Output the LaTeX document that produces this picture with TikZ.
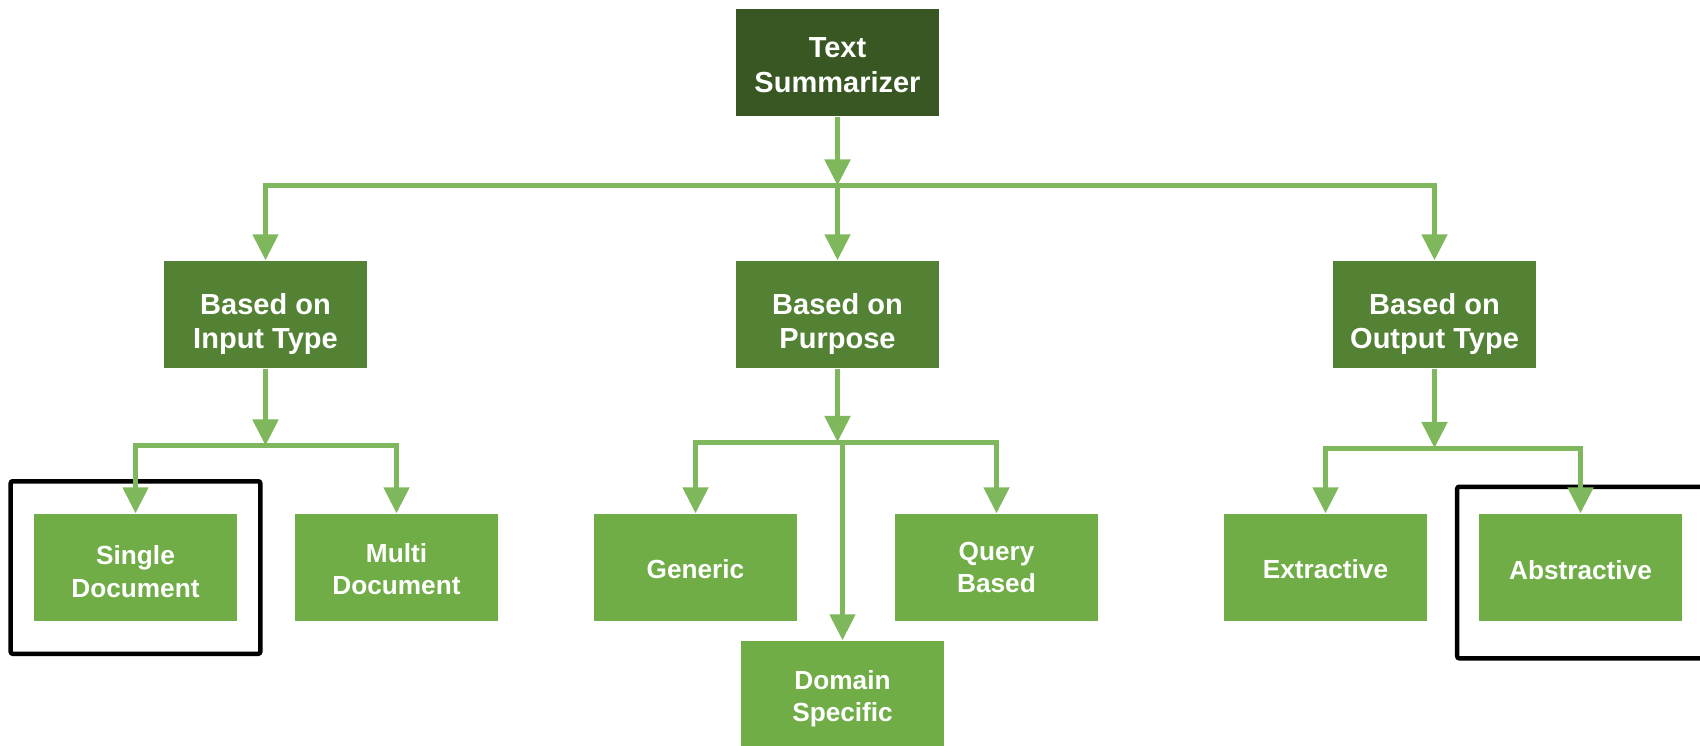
\documentclass[tikz,border=0pt]{standalone}
\usepackage{fontspec}
\setmainfont{Liberation Sans}
\usepackage{tikz}
\usetikzlibrary{arrows.meta}
\usetikzlibrary{fit}
\definecolor{topgreen}{HTML}{385723}
\definecolor{midgreen}{HTML}{548235}
\definecolor{leafgreen}{HTML}{70AD47}
\definecolor{linkgreen}{HTML}{7EB75C}
\begin{document}
\begin{tikzpicture}[x=0.01cm,y=-0.01cm]
\tikzset{box/.style={rectangle,inner sep=0pt,minimum width=2.03cm,minimum height=1.07cm}}
\tikzset{leaf/.style={box,fill=leafgreen}}
\tikzset{bigtext/.style={align=center,text=white,font=\fontsize{8.25}{9.8}\selectfont\bfseries}}
\tikzset{smalltext/.style={align=center,text=white,font=\fontsize{7.45}{9.2}\selectfont\bfseries}}
\tikzset{link/.style={draw=linkgreen,line width=0.05cm,-{Triangle[width=0.25cm,length=0.26cm]}}}
\tikzset{frame/.style={draw=black,line width=0.045cm,rounded corners=0.02cm,inner sep=0pt}}
\useasboundingbox (0,0) rectangle (1700,745);
\node (top) at (837.5,62.5) [box,fill=topgreen,label={[bigtext,yshift=-0.025cm]center:{Text\\Summarizer}}] {};
\node (input) at (265.5,314.5) [box,fill=midgreen,label={[bigtext,yshift=-0.095cm]center:{Based on\\Input Type}}] {};
\node (purpose) at (837.5,314.5) [box,fill=midgreen,label={[bigtext,yshift=-0.095cm]center:{Based on\\Purpose}}] {};
\node (output) at (1434.5,314.5) [box,fill=midgreen,label={[bigtext,yshift=-0.095cm]center:{Based on\\Output Type}}] {};
\node (single) at (135.5,567.5) [leaf,label={[smalltext,yshift=-0.04cm]center:{Single\\Document}}] {};
\node (multi) at (396.5,567.5) [leaf,label={[smalltext,yshift=-0.015cm]center:{Multi\\Document}}] {};
\node (generic) at (695.5,567.5) [leaf,label={[smalltext,yshift=-0.015cm]center:Generic}] {};
\node (domain) at (842.5,694.5) [leaf,label={[smalltext,yshift=-0.045cm]center:{Domain\\Specific}}] {};
\node (query) at (996.5,567.5) [leaf,label={[smalltext]center:{Query\\Based}}] {};
\node (extractive) at (1325.5,567.5) [leaf,label={[smalltext,yshift=-0.015cm]center:Extractive}] {};
\node (abstractive) at (1580.5,567.5) [leaf,label={[smalltext,yshift=-0.03cm]center:Abstractive}] {};
\coordinate (j0) at (837.5,185.5);
\coordinate (j1) at (265.5,445.5);
\coordinate (j2) at (842.5,442);
\coordinate (j3) at (1434.5,448);

% highlighted leaves
\node (hlsingle) [frame,fit=(single),inner xsep=0.225cm,inner ysep=0.32cm] {};
\node (hlabstract) [frame,fit=(abstractive),inner xsep=0.21cm,inner ysep=0.315cm,yshift=-0.05cm] {};

\draw [link] (top) -- (j0);
\draw [link] (j0) -- (purpose);
\draw [link] (j0) -| (input);
\draw [link] (j0) -| (output);
\draw [link] (input) -- (j1);
\draw [link] (j1) -| (single);
\draw [link] (j1) -| (multi);
\draw [link] (purpose) -- (purpose |- j2);
\draw [link] (j2) -| (generic);
\draw [link] (j2) -- (domain);
\draw [link] (j2) -| (query);
\draw [link] (output) -- (j3);
\draw [link] (j3) -| (extractive);
\draw [link] (j3) -| (abstractive);
\end{tikzpicture}
\end{document}
